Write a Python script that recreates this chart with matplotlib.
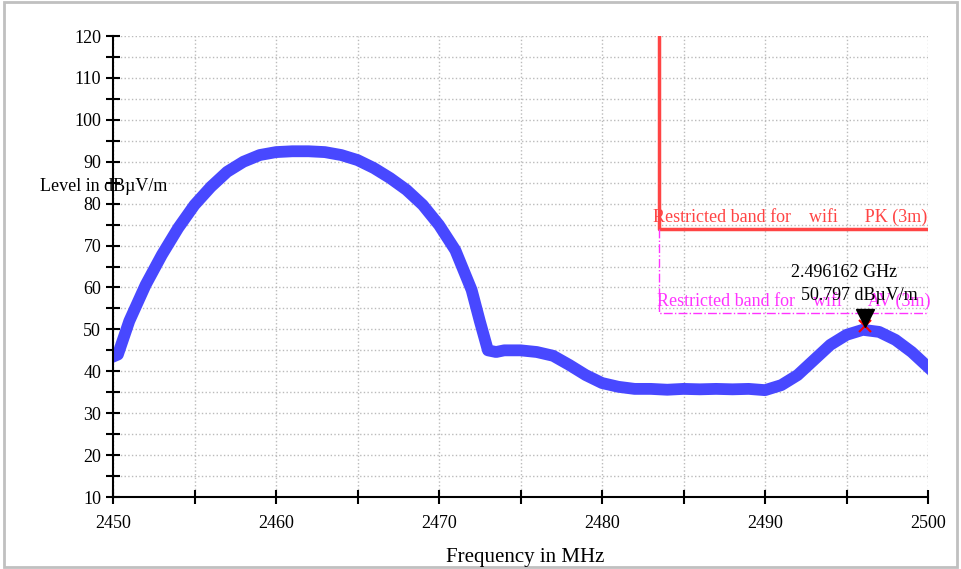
import matplotlib.pyplot as plt
from matplotlib.patches import Rectangle

plt.rcParams['font.family'] = ['Liberation Serif', 'DejaVu Serif']

# trace (MHz, dBuV/m)
freq = [2450, 2450.3, 2451, 2452, 2453, 2454, 2455, 2456, 2457, 2458, 2459,
        2460, 2461, 2462, 2463, 2464, 2465, 2466, 2467, 2468, 2469, 2470,
        2471, 2472, 2472.5, 2473, 2473.5, 2474, 2475, 2476, 2477, 2478,
        2479, 2480, 2481, 2482, 2483, 2484, 2485, 2486, 2487, 2488, 2489,
        2490, 2491, 2492, 2493, 2494, 2495, 2496, 2497, 2498, 2499, 2500]
level = [43.5, 44.0, 52.0, 60.6, 67.8, 74.2, 79.7, 84.0, 87.6, 90.0, 91.6,
         92.3, 92.5, 92.5, 92.3, 91.6, 90.4, 88.5, 86.1, 83.3, 79.7, 74.9,
         68.9, 59.4, 52.0, 45.0, 44.6, 45.0, 45.0, 44.6, 43.7, 41.5,
         39.1, 37.2, 36.3, 35.8, 35.8, 35.6, 35.8, 35.7, 35.8, 35.7, 35.8,
         35.5, 36.7, 39.1, 42.7, 46.3, 48.7, 49.9, 49.4, 47.5, 44.6, 41.0]

band_start = 2483.5
band_end = 2500
pk_limit = 74
av_limit = 54
ymax = 120

peak_f = 2496.162
peak_l = 50.797

fig = plt.figure(figsize=(9.61, 5.69), dpi=100)
ax = fig.add_axes([0.1176, 0.1265, 0.8481, 0.8102])

ax.plot(freq, level, color='#4848ff', lw=8.5, solid_joinstyle='round')

# limit lines
ax.plot([band_start, band_start, band_end], [ymax, pk_limit, pk_limit],
        color='#ff4444', lw=2.5)
ax.plot([band_start, band_start, band_end], [pk_limit, av_limit, av_limit],
        color='#ff33ff', lw=1, ls='-.')
ax.text(band_start - 0.4, pk_limit + 0.6, 'Restricted band for    wifi      PK (3m)',
        color='#ff4444', fontsize=13, ha='left', va='bottom')
ax.text(band_start - 0.1, av_limit + 0.6, 'Restricted band for    wifi      AV (3m)',
        color='#ff33ff', fontsize=13, ha='left', va='bottom')

# marker
ax.plot(peak_f, peak_l, marker='x', color='red', ms=9, mew=1.5)
ax.plot(peak_f, peak_l + 2.0, marker='v', color='black', ms=13)
ax.text(2494.85, 61.5, '2.496162 GHz', fontsize=13, ha='center', va='bottom')
ax.text(2495.8, 56.0, '50.797 dBµV/m', fontsize=13, ha='center', va='bottom')

ax.set_xlim(2450, 2500)
ax.set_ylim(10, 120)
ax.set_xticks(range(2450, 2501, 10))
ax.set_xticks(range(2455, 2500, 10), minor=True)
ax.set_yticks(range(10, 121, 10))
ax.set_yticks(range(15, 120, 10), minor=True)
ax.grid(True, which='both', color='#bbbbbb', ls=':', lw=1)
ax.tick_params(which='both', direction='inout', length=10, width=1.5, labelsize=13)
ax.tick_params(axis='x', pad=8)
for s in ['top', 'right']:
    ax.spines[s].set_visible(False)
for s in ['left', 'bottom']:
    ax.spines[s].set_linewidth(1.5)

fig.text(0.042, 0.672, 'Level in dBµV/m', fontsize=13, ha='left', va='center')
fig.text(0.546, 0.021, 'Frequency in MHz', fontsize=15, ha='center', va='center')

fig.patches.append(Rectangle((0.004, 0.004), 0.992, 0.992, transform=fig.transFigure,
                             fill=False, edgecolor='#c0c0c0', lw=2))

fig.savefig('out.png', dpi=100)
